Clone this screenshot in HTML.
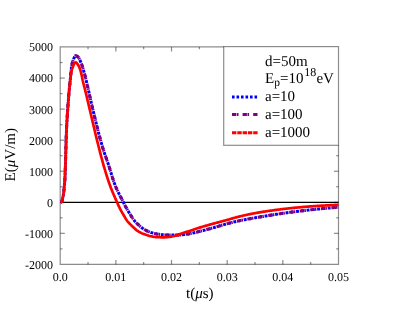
<!DOCTYPE html>
<html><head><meta charset="utf-8"><style>
html,body{margin:0;padding:0;background:#fff;}
svg{display:block;font-family:"Liberation Serif",serif;will-change:transform;}
text{text-rendering:geometricPrecision;}
</style></head><body>
<svg width="399" height="312" viewBox="0 0 399 312">
<rect width="399" height="312" fill="#fff"/>
<g stroke="#000" stroke-opacity="0.45" stroke-width="1.2" fill="none">
<path d="M223.7,46.8 H60.2 V264.4 H338.5 V145.3"/>
<rect x="223.7" y="46.6" width="114.80000000000001" height="98.7"/>
<line x1="88.03" y1="264.4" x2="88.03" y2="262.09999999999997"/>
<line x1="88.03" y1="47.0" x2="88.03" y2="49.3"/>
<line x1="115.86" y1="264.4" x2="115.86" y2="259.9"/>
<line x1="115.86" y1="47.0" x2="115.86" y2="51.5"/>
<line x1="143.69" y1="264.4" x2="143.69" y2="262.09999999999997"/>
<line x1="143.69" y1="47.0" x2="143.69" y2="49.3"/>
<line x1="171.52" y1="264.4" x2="171.52" y2="259.9"/>
<line x1="171.52" y1="47.0" x2="171.52" y2="51.5"/>
<line x1="199.35" y1="264.4" x2="199.35" y2="262.09999999999997"/>
<line x1="199.35" y1="47.0" x2="199.35" y2="49.3"/>
<line x1="227.18" y1="264.4" x2="227.18" y2="259.9"/>
<line x1="255.01" y1="264.4" x2="255.01" y2="262.09999999999997"/>
<line x1="282.84" y1="264.4" x2="282.84" y2="259.9"/>
<line x1="310.67" y1="264.4" x2="310.67" y2="262.09999999999997"/>
<line x1="60.2" y1="248.87" x2="62.5" y2="248.87"/>
<line x1="338.5" y1="248.87" x2="336.2" y2="248.87"/>
<line x1="60.2" y1="233.34" x2="64.8" y2="233.34"/>
<line x1="338.5" y1="233.34" x2="333.9" y2="233.34"/>
<line x1="60.2" y1="217.81" x2="62.5" y2="217.81"/>
<line x1="338.5" y1="217.81" x2="336.2" y2="217.81"/>
<line x1="60.2" y1="202.29" x2="64.8" y2="202.29"/>
<line x1="338.5" y1="202.29" x2="333.9" y2="202.29"/>
<line x1="60.2" y1="186.76" x2="62.5" y2="186.76"/>
<line x1="338.5" y1="186.76" x2="336.2" y2="186.76"/>
<line x1="60.2" y1="171.23" x2="64.8" y2="171.23"/>
<line x1="338.5" y1="171.23" x2="333.9" y2="171.23"/>
<line x1="60.2" y1="155.70" x2="62.5" y2="155.70"/>
<line x1="338.5" y1="155.70" x2="336.2" y2="155.70"/>
<line x1="60.2" y1="140.17" x2="64.8" y2="140.17"/>
<line x1="60.2" y1="124.64" x2="62.5" y2="124.64"/>
<line x1="60.2" y1="109.11" x2="64.8" y2="109.11"/>
<line x1="60.2" y1="93.59" x2="62.5" y2="93.59"/>
<line x1="60.2" y1="78.06" x2="64.8" y2="78.06"/>
<line x1="60.2" y1="62.53" x2="62.5" y2="62.53"/>
</g>
<line x1="60.2" y1="202.29" x2="338.5" y2="202.29" stroke="#000" stroke-width="1.3"/>
<g fill="none" stroke-linejoin="round">
<path d="M60.40,202.40 L61.18,202.13 L61.67,201.68 L62.00,200.96 L62.23,200.19 L62.41,199.45 L62.56,198.69 L62.71,197.93 L62.87,197.18 L63.03,196.43 L63.18,195.67 L63.31,194.92 L63.44,194.16 L63.56,193.40 L63.67,192.64 L63.76,191.88 L63.85,191.12 L63.92,190.35 L63.99,189.59 L64.06,188.82 L64.12,188.06 L64.19,187.29 L64.25,186.52 L64.32,185.76 L64.40,184.99 L64.47,184.23 L64.55,183.47 L64.62,182.70 L64.69,181.94 L64.75,181.17 L64.81,180.40 L64.85,179.64 L64.89,178.87 L64.93,178.10 L64.97,177.34 L65.01,176.57 L65.04,175.80 L65.08,175.04 L65.11,174.27 L65.14,173.50 L65.17,172.73 L65.20,171.96 L65.22,171.20 L65.25,170.43 L65.28,169.66 L65.30,168.89 L65.33,168.12 L65.35,167.36 L65.38,166.59 L65.41,165.82 L65.43,165.05 L65.46,164.29 L65.48,163.52 L65.50,162.75 L65.53,161.98 L65.55,161.21 L65.57,160.45 L65.59,159.68 L65.61,158.91 L65.63,158.14 L65.65,157.38 L65.67,156.61 L65.69,155.84 L65.71,155.07 L65.73,154.30 L65.75,153.54 L65.77,152.77 L65.79,152.00 L65.81,151.23 L65.84,150.46 L65.86,149.70 L65.88,148.93 L65.90,148.16 L65.92,147.39 L65.95,146.62 L65.97,145.86 L65.99,145.09 L66.02,144.32 L66.04,143.55 L66.06,142.79 L66.09,142.02 L66.11,141.25 L66.13,140.48 L66.16,139.71 L66.18,138.95 L66.20,138.18 L66.23,137.41 L66.25,136.64 L66.28,135.87 L66.31,135.11 L66.33,134.34 L66.36,133.57 L66.39,132.80 L66.42,132.04 L66.45,131.27 L66.48,130.50 L66.51,129.73 L66.54,128.97 L66.58,128.20 L66.61,127.43 L66.65,126.67 L66.69,125.90 L66.73,125.13 L66.77,124.36 L66.81,123.60 L66.85,122.83 L66.89,122.06 L66.94,121.30 L66.98,120.53 L67.03,119.76 L67.07,118.99 L67.12,118.23 L67.17,117.46 L67.21,116.69 L67.26,115.93 L67.31,115.16 L67.36,114.39 L67.41,113.63 L67.46,112.86 L67.51,112.09 L67.56,111.33 L67.61,110.56 L67.66,109.80 L67.71,109.03 L67.77,108.26 L67.82,107.50 L67.87,106.73 L67.92,105.96 L67.98,105.20 L68.03,104.43 L68.09,103.66 L68.14,102.90 L68.20,102.13 L68.26,101.37 L68.32,100.60 L68.38,99.83 L68.43,99.07 L68.50,98.30 L68.56,97.54 L68.62,96.77 L68.68,96.00 L68.74,95.24 L68.81,94.47 L68.87,93.71 L68.94,92.94 L69.01,92.18 L69.07,91.41 L69.14,90.65 L69.21,89.88 L69.28,89.12 L69.36,88.35 L69.43,87.59 L69.51,86.83 L69.59,86.06 L69.68,85.30 L69.76,84.53 L69.84,83.77 L69.93,83.01 L70.01,82.24 L70.09,81.48 L70.17,80.72 L70.25,79.95 L70.33,79.19 L70.41,78.42 L70.48,77.66 L70.55,76.89 L70.62,76.13 L70.68,75.36 L70.75,74.60 L70.82,73.83 L70.89,73.07 L70.97,72.30 L71.05,71.54 L71.13,70.77 L71.20,70.01 L71.28,69.24 L71.36,68.47 L71.45,67.71 L71.55,66.95 L71.65,66.19 L71.76,65.43 L71.89,64.68 L72.04,63.93 L72.23,63.18 L72.44,62.44 L72.67,61.70 L72.91,60.97 L73.15,60.24 L73.41,59.51 L73.69,58.79 L74.00,58.09 L74.35,57.41 L74.74,56.62 L75.21,55.90 L75.73,55.60 L76.41,55.79 L77.16,56.21 L77.77,56.66 L78.25,57.17 L78.68,57.78 L79.07,58.45 L79.44,59.17 L79.78,59.91 L80.11,60.65 L80.43,61.36 L80.74,62.06 L81.04,62.77 L81.33,63.48 L81.60,64.20 L81.86,64.93 L82.12,65.65 L82.36,66.38 L82.59,67.11 L82.82,67.84 L83.04,68.58 L83.26,69.31 L83.47,70.05 L83.68,70.79 L83.88,71.54 L84.08,72.28 L84.28,73.02 L84.48,73.76 L84.68,74.51 L84.88,75.25 L85.07,75.99 L85.26,76.74 L85.45,77.48 L85.63,78.23 L85.82,78.97 L86.00,79.72 L86.18,80.47 L86.36,81.21 L86.53,81.96 L86.71,82.71 L86.89,83.45 L87.06,84.20 L87.23,84.95 L87.41,85.70 L87.58,86.45 L87.75,87.20 L87.92,87.95 L88.09,88.70 L88.26,89.45 L88.42,90.20 L88.59,90.94 L88.76,91.69 L88.93,92.44 L89.10,93.19 L89.26,93.94 L89.43,94.69 L89.60,95.44 L89.76,96.19 L89.93,96.94 L90.10,97.69 L90.27,98.44 L90.44,99.19 L90.61,99.94 L90.78,100.69 L90.95,101.44 L91.12,102.19 L91.29,102.94 L91.46,103.69 L91.64,104.43 L91.81,105.18 L91.99,105.93 L92.16,106.68 L92.34,107.42 L92.52,108.17 L92.70,108.92 L92.88,109.66 L93.06,110.41 L93.24,111.16 L93.42,111.90 L93.60,112.65 L93.78,113.40 L93.96,114.15 L94.14,114.89 L94.32,115.64 L94.50,116.39 L94.68,117.14 L94.86,117.88 L95.05,118.63 L95.23,119.38 L95.41,120.12 L95.59,120.87 L95.77,121.62 L95.96,122.36 L96.14,123.11 L96.32,123.86 L96.51,124.60 L96.69,125.35 L96.88,126.10 L97.06,126.84 L97.25,127.59 L97.44,128.33 L97.63,129.08 L97.81,129.82 L98.00,130.57 L98.19,131.31 L98.39,132.06 L98.58,132.80 L98.77,133.55 L98.97,134.29 L99.16,135.03 L99.36,135.77 L99.56,136.52 L99.76,137.26 L99.96,138.00 L100.16,138.74 L100.36,139.48 L100.56,140.22 L100.77,140.96 L100.98,141.70 L101.18,142.44 L101.39,143.18 L101.60,143.91 L101.82,144.65 L102.03,145.39 L102.25,146.12 L102.47,146.86 L102.69,147.59 L102.91,148.32 L103.14,149.06 L103.38,149.79 L103.61,150.52 L103.85,151.25 L104.09,151.98 L104.33,152.70 L104.58,153.43 L104.83,154.16 L105.08,154.89 L105.33,155.61 L105.58,156.34 L105.83,157.07 L106.08,157.79 L106.34,158.52 L106.59,159.24 L106.84,159.97 L107.10,160.70 L107.35,161.42 L107.60,162.15 L107.85,162.88 L108.10,163.60 L108.34,164.33 L108.59,165.06 L108.83,165.79 L109.07,166.52 L109.31,167.25 L109.54,167.98 L109.77,168.72 L110.00,169.45 L110.23,170.19 L110.45,170.93 L110.68,171.66 L110.90,172.40 L111.12,173.14 L111.35,173.88 L111.57,174.61 L111.79,175.35 L112.02,176.09 L112.25,176.82 L112.47,177.56 L112.71,178.29 L112.94,179.02 L113.18,179.75 L113.41,180.48 L113.66,181.21 L113.91,181.94 L114.16,182.66 L114.41,183.38 L114.67,184.10 L114.94,184.81 L115.21,185.53 L115.49,186.24 L115.78,186.94 L116.08,187.65 L116.38,188.35 L116.69,189.05 L117.01,189.74 L117.34,190.44 L117.67,191.13 L118.01,191.82 L118.35,192.51 L118.69,193.20 L119.04,193.88 L119.39,194.57 L119.74,195.26 L120.10,195.94 L120.46,196.62 L120.82,197.31 L121.17,197.99 L121.53,198.67 L121.89,199.35 L122.24,200.04 L122.60,200.72 L122.95,201.41 L123.30,202.09 L123.64,202.78 L123.98,203.47 L124.33,204.15 L124.67,204.84 L125.02,205.52 L125.38,206.21 L125.74,206.88 L126.11,207.56 L126.48,208.23 L126.86,208.89 L127.25,209.56 L127.64,210.22 L128.03,210.88 L128.42,211.54 L128.82,212.20 L129.22,212.85 L129.62,213.51 L130.03,214.16 L130.44,214.81 L130.85,215.46 L131.27,216.10 L131.68,216.75 L132.09,217.41 L132.51,218.06 L132.93,218.70 L133.36,219.34 L133.81,219.96 L134.27,220.57 L134.76,221.15 L135.26,221.73 L135.78,222.30 L136.31,222.86 L136.86,223.40 L137.42,223.94 L137.98,224.47 L138.55,224.98 L139.12,225.48 L139.71,225.99 L140.30,226.48 L140.90,226.98 L141.50,227.46 L142.12,227.93 L142.74,228.38 L143.38,228.82 L144.02,229.24 L144.67,229.63 L145.33,229.99 L146.00,230.35 L146.69,230.70 L147.39,231.03 L148.10,231.35 L148.81,231.66 L149.53,231.94 L150.25,232.21 L150.97,232.46 L151.70,232.69 L152.43,232.91 L153.17,233.12 L153.92,233.33 L154.67,233.51 L155.42,233.69 L156.17,233.85 L156.93,233.99 L157.68,234.11 L158.44,234.23 L159.20,234.34 L159.96,234.44 L160.73,234.54 L161.49,234.62 L162.26,234.70 L163.02,234.76 L163.79,234.81 L164.55,234.85 L165.32,234.90 L166.09,234.93 L166.86,234.97 L167.63,234.99 L168.39,235.02 L169.16,235.04 L169.93,235.05 L170.70,235.06 L171.47,235.07 L172.23,235.08 L173.00,235.09 L173.77,235.09 L174.54,235.10 L175.31,235.10 L176.08,235.10 L176.84,235.09 L177.61,235.07 L178.38,235.03 L179.15,234.99 L179.92,234.94 L180.68,234.89 L181.45,234.83 L182.21,234.77 L182.98,234.71 L183.74,234.63 L184.50,234.54 L185.26,234.43 L186.03,234.32 L186.79,234.19 L187.54,234.07 L188.30,233.94 L189.06,233.81 L189.81,233.67 L190.56,233.53 L191.32,233.37 L192.07,233.22 L192.82,233.06 L193.57,232.89 L194.32,232.72 L195.07,232.54 L195.81,232.36 L196.56,232.18 L197.31,231.99 L198.06,231.81 L198.80,231.62 L199.55,231.44 L200.29,231.25 L201.04,231.06 L201.78,230.88 L202.53,230.69 L203.27,230.50 L204.02,230.31 L204.76,230.12 L205.50,229.92 L206.24,229.72 L206.99,229.52 L207.73,229.32 L208.47,229.12 L209.21,228.91 L209.95,228.71 L210.69,228.50 L211.43,228.29 L212.17,228.09 L212.91,227.88 L213.65,227.67 L214.39,227.46 L215.13,227.25 L215.86,227.03 L216.60,226.82 L217.34,226.60 L218.07,226.37 L218.81,226.15 L219.54,225.93 L220.28,225.70 L221.01,225.48 L221.75,225.26 L222.49,225.04 L223.22,224.82 L223.96,224.61 L224.70,224.40 L225.44,224.19 L226.18,223.99 L226.92,223.79 L227.66,223.59 L228.40,223.39 L229.15,223.20 L229.89,223.01 L230.63,222.81 L231.38,222.62 L232.12,222.44 L232.87,222.25 L233.62,222.06 L234.36,221.88 L235.11,221.70 L235.86,221.53 L236.61,221.35 L237.36,221.18 L238.11,221.02 L238.86,220.85 L239.61,220.69 L240.36,220.53 L241.11,220.38 L241.86,220.23 L242.62,220.08 L243.37,219.93 L244.12,219.79 L244.88,219.65 L245.63,219.51 L246.39,219.37 L247.15,219.23 L247.90,219.09 L248.66,218.95 L249.41,218.81 L250.17,218.68 L250.93,218.54 L251.68,218.40 L252.44,218.27 L253.19,218.13 L253.95,217.99 L254.71,217.86 L255.46,217.72 L256.22,217.59 L256.97,217.45 L257.73,217.32 L258.49,217.19 L259.25,217.06 L260.00,216.93 L260.76,216.80 L261.52,216.67 L262.27,216.54 L263.03,216.41 L263.79,216.29 L264.55,216.16 L265.30,216.03 L266.06,215.91 L266.82,215.78 L267.58,215.66 L268.34,215.54 L269.10,215.42 L269.85,215.29 L270.61,215.17 L271.37,215.05 L272.13,214.93 L272.89,214.81 L273.65,214.70 L274.41,214.58 L275.17,214.46 L275.93,214.35 L276.69,214.23 L277.44,214.12 L278.20,214.00 L278.96,213.89 L279.72,213.78 L280.48,213.67 L281.24,213.56 L282.00,213.45 L282.77,213.34 L283.53,213.23 L284.29,213.12 L285.05,213.01 L285.81,212.91 L286.57,212.80 L287.33,212.70 L288.09,212.59 L288.85,212.49 L289.61,212.38 L290.37,212.28 L291.14,212.18 L291.90,212.08 L292.66,211.98 L293.42,211.88 L294.18,211.78 L294.94,211.68 L295.71,211.59 L296.47,211.49 L297.23,211.39 L297.99,211.30 L298.76,211.20 L299.52,211.11 L300.28,211.02 L301.04,210.93 L301.81,210.83 L302.57,210.74 L303.33,210.66 L304.09,210.57 L304.86,210.48 L305.62,210.39 L306.38,210.30 L307.15,210.22 L307.91,210.13 L308.67,210.05 L309.44,209.96 L310.20,209.88 L310.96,209.80 L311.73,209.72 L312.49,209.63 L313.26,209.55 L314.02,209.47 L314.78,209.39 L315.55,209.31 L316.31,209.23 L317.08,209.15 L317.84,209.07 L318.60,208.99 L319.37,208.91 L320.13,208.84 L320.90,208.76 L321.66,208.68 L322.43,208.61 L323.19,208.53 L323.96,208.46 L324.72,208.39 L325.48,208.31 L326.25,208.24 L327.01,208.18 L327.78,208.11 L328.54,208.04 L329.31,207.97 L330.08,207.91 L330.84,207.85 L331.61,207.78 L332.37,207.72 L333.14,207.66 L333.90,207.60 L334.67,207.54 L335.44,207.48 L336.20,207.42 L336.97,207.36 L337.73,207.31 L338.50,207.25" stroke="#0000ff" stroke-width="3" stroke-dasharray="2.9,2.4" stroke-dashoffset="-1.65"/>
<path d="M60.40,202.40 L61.18,202.13 L61.67,201.68 L62.00,200.96 L62.23,200.19 L62.41,199.45 L62.56,198.69 L62.71,197.93 L62.87,197.18 L63.03,196.43 L63.18,195.67 L63.31,194.92 L63.44,194.16 L63.56,193.40 L63.67,192.64 L63.76,191.88 L63.85,191.12 L63.92,190.35 L63.99,189.59 L64.06,188.82 L64.12,188.06 L64.19,187.29 L64.25,186.52 L64.32,185.76 L64.40,184.99 L64.47,184.23 L64.55,183.47 L64.62,182.70 L64.69,181.94 L64.75,181.17 L64.81,180.40 L64.85,179.64 L64.89,178.87 L64.93,178.10 L64.97,177.34 L65.01,176.57 L65.04,175.80 L65.08,175.04 L65.11,174.27 L65.14,173.50 L65.17,172.73 L65.20,171.96 L65.22,171.20 L65.25,170.43 L65.28,169.66 L65.30,168.89 L65.33,168.12 L65.35,167.36 L65.38,166.59 L65.41,165.82 L65.43,165.05 L65.46,164.29 L65.48,163.52 L65.50,162.75 L65.53,161.98 L65.55,161.21 L65.57,160.45 L65.59,159.68 L65.61,158.91 L65.63,158.14 L65.65,157.38 L65.67,156.61 L65.69,155.84 L65.71,155.07 L65.73,154.30 L65.75,153.54 L65.77,152.77 L65.79,152.00 L65.81,151.23 L65.84,150.46 L65.86,149.70 L65.88,148.93 L65.90,148.16 L65.92,147.39 L65.95,146.62 L65.97,145.86 L65.99,145.09 L66.02,144.32 L66.04,143.55 L66.06,142.79 L66.09,142.02 L66.11,141.25 L66.13,140.48 L66.16,139.71 L66.18,138.95 L66.20,138.18 L66.23,137.41 L66.25,136.64 L66.28,135.87 L66.31,135.11 L66.33,134.34 L66.36,133.57 L66.39,132.80 L66.42,132.04 L66.45,131.27 L66.48,130.50 L66.51,129.73 L66.54,128.97 L66.58,128.20 L66.61,127.43 L66.65,126.67 L66.69,125.90 L66.73,125.13 L66.77,124.36 L66.81,123.60 L66.85,122.83 L66.89,122.06 L66.94,121.30 L66.98,120.53 L67.03,119.76 L67.07,118.99 L67.12,118.23 L67.17,117.46 L67.21,116.69 L67.26,115.93 L67.31,115.16 L67.36,114.39 L67.41,113.63 L67.46,112.86 L67.51,112.09 L67.56,111.33 L67.61,110.56 L67.66,109.80 L67.71,109.03 L67.77,108.26 L67.82,107.50 L67.87,106.73 L67.92,105.96 L67.98,105.20 L68.03,104.43 L68.09,103.66 L68.14,102.90 L68.20,102.13 L68.26,101.37 L68.32,100.60 L68.38,99.83 L68.43,99.07 L68.50,98.30 L68.56,97.54 L68.62,96.77 L68.68,96.00 L68.74,95.24 L68.81,94.47 L68.87,93.71 L68.94,92.94 L69.01,92.18 L69.07,91.41 L69.14,90.65 L69.21,89.88 L69.28,89.12 L69.36,88.35 L69.43,87.59 L69.51,86.83 L69.59,86.06 L69.68,85.30 L69.76,84.53 L69.84,83.77 L69.93,83.01 L70.01,82.24 L70.09,81.48 L70.17,80.72 L70.25,79.95 L70.33,79.19 L70.41,78.42 L70.48,77.66 L70.55,76.89 L70.62,76.13 L70.68,75.36 L70.75,74.60 L70.82,73.83 L70.89,73.07 L70.97,72.30 L71.05,71.54 L71.13,70.77 L71.20,70.01 L71.28,69.24 L71.36,68.47 L71.45,67.71 L71.55,66.95 L71.65,66.19 L71.76,65.43 L71.89,64.68 L72.04,63.93 L72.23,63.18 L72.44,62.44 L72.67,61.70 L72.91,60.97 L73.15,60.24 L73.41,59.51 L73.69,58.79 L74.00,58.09 L74.35,57.41 L74.74,56.62 L75.21,55.90 L75.73,55.60 L76.41,55.79 L77.16,56.21 L77.77,56.66 L78.25,57.17 L78.68,57.78 L79.07,58.45 L79.44,59.17 L79.78,59.91 L80.11,60.65 L80.43,61.36 L80.74,62.06 L81.04,62.77 L81.33,63.48 L81.60,64.20 L81.86,64.93 L82.12,65.65 L82.36,66.38 L82.59,67.11 L82.82,67.84 L83.04,68.58 L83.26,69.31 L83.47,70.05 L83.68,70.79 L83.88,71.54 L84.08,72.28 L84.28,73.02 L84.48,73.76 L84.68,74.51 L84.88,75.25 L85.07,75.99 L85.26,76.74 L85.45,77.48 L85.63,78.23 L85.82,78.97 L86.00,79.72 L86.18,80.47 L86.36,81.21 L86.53,81.96 L86.71,82.71 L86.89,83.45 L87.06,84.20 L87.23,84.95 L87.41,85.70 L87.58,86.45 L87.75,87.20 L87.92,87.95 L88.09,88.70 L88.26,89.45 L88.42,90.20 L88.59,90.94 L88.76,91.69 L88.93,92.44 L89.10,93.19 L89.26,93.94 L89.43,94.69 L89.60,95.44 L89.76,96.19 L89.93,96.94 L90.10,97.69 L90.27,98.44 L90.44,99.19 L90.61,99.94 L90.78,100.69 L90.95,101.44 L91.12,102.19 L91.29,102.94 L91.46,103.69 L91.64,104.43 L91.81,105.18 L91.99,105.93 L92.16,106.68 L92.34,107.42 L92.52,108.17 L92.70,108.92 L92.88,109.66 L93.06,110.41 L93.24,111.16 L93.42,111.90 L93.60,112.65 L93.78,113.40 L93.96,114.15 L94.14,114.89 L94.32,115.64 L94.50,116.39 L94.68,117.14 L94.86,117.88 L95.05,118.63 L95.23,119.38 L95.41,120.12 L95.59,120.87 L95.77,121.62 L95.96,122.36 L96.14,123.11 L96.32,123.86 L96.51,124.60 L96.69,125.35 L96.88,126.10 L97.06,126.84 L97.25,127.59 L97.44,128.33 L97.63,129.08 L97.81,129.82 L98.00,130.57 L98.19,131.31 L98.39,132.06 L98.58,132.80 L98.77,133.55 L98.97,134.29 L99.16,135.03 L99.36,135.77 L99.56,136.52 L99.76,137.26 L99.96,138.00 L100.16,138.74 L100.36,139.48 L100.56,140.22 L100.77,140.96 L100.98,141.70 L101.18,142.44 L101.39,143.18 L101.60,143.91 L101.82,144.65 L102.03,145.39 L102.25,146.12 L102.47,146.86 L102.69,147.59 L102.91,148.32 L103.14,149.06 L103.38,149.79 L103.61,150.52 L103.85,151.25 L104.09,151.98 L104.33,152.70 L104.58,153.43 L104.83,154.16 L105.08,154.89 L105.33,155.61 L105.58,156.34 L105.83,157.07 L106.08,157.79 L106.34,158.52 L106.59,159.24 L106.84,159.97 L107.10,160.70 L107.35,161.42 L107.60,162.15 L107.85,162.88 L108.10,163.60 L108.34,164.33 L108.59,165.06 L108.83,165.79 L109.07,166.52 L109.31,167.25 L109.54,167.98 L109.77,168.72 L110.00,169.45 L110.23,170.19 L110.45,170.93 L110.68,171.66 L110.90,172.40 L111.12,173.14 L111.35,173.88 L111.57,174.61 L111.79,175.35 L112.02,176.09 L112.25,176.82 L112.47,177.56 L112.71,178.29 L112.94,179.02 L113.18,179.75 L113.41,180.48 L113.66,181.21 L113.91,181.94 L114.16,182.66 L114.41,183.38 L114.67,184.10 L114.94,184.81 L115.21,185.53 L115.49,186.24 L115.78,186.94 L116.08,187.65 L116.38,188.35 L116.69,189.05 L117.01,189.74 L117.34,190.44 L117.67,191.13 L118.01,191.82 L118.35,192.51 L118.69,193.20 L119.04,193.88 L119.39,194.57 L119.74,195.26 L120.10,195.94 L120.46,196.62 L120.82,197.31 L121.17,197.99 L121.53,198.67 L121.89,199.35 L122.24,200.04 L122.60,200.72 L122.95,201.41 L123.30,202.09 L123.64,202.78 L123.98,203.47 L124.33,204.15 L124.67,204.84 L125.02,205.52 L125.38,206.21 L125.74,206.88 L126.11,207.56 L126.48,208.23 L126.86,208.89 L127.25,209.56 L127.64,210.22 L128.03,210.88 L128.42,211.54 L128.82,212.20 L129.22,212.85 L129.62,213.51 L130.03,214.16 L130.44,214.81 L130.85,215.46 L131.27,216.10 L131.68,216.75 L132.09,217.41 L132.51,218.06 L132.93,218.70 L133.36,219.34 L133.81,219.96 L134.27,220.57 L134.76,221.15 L135.26,221.73 L135.78,222.30 L136.31,222.86 L136.86,223.40 L137.42,223.94 L137.98,224.47 L138.55,224.98 L139.12,225.48 L139.71,225.99 L140.30,226.48 L140.90,226.98 L141.50,227.46 L142.12,227.93 L142.74,228.38 L143.38,228.82 L144.02,229.24 L144.67,229.63 L145.33,229.99 L146.00,230.35 L146.69,230.70 L147.39,231.03 L148.10,231.35 L148.81,231.66 L149.53,231.94 L150.25,232.21 L150.97,232.46 L151.70,232.69 L152.43,232.91 L153.17,233.12 L153.92,233.33 L154.67,233.51 L155.42,233.69 L156.17,233.85 L156.93,233.99 L157.68,234.11 L158.44,234.23 L159.20,234.34 L159.96,234.44 L160.73,234.54 L161.49,234.62 L162.26,234.70 L163.02,234.76 L163.79,234.81 L164.55,234.85 L165.32,234.90 L166.09,234.93 L166.86,234.97 L167.63,234.99 L168.39,235.02 L169.16,235.04 L169.93,235.05 L170.70,235.06 L171.47,235.07 L172.23,235.08 L173.00,235.09 L173.77,235.09 L174.54,235.10 L175.31,235.10 L176.08,235.10 L176.84,235.09 L177.61,235.07 L178.38,235.03 L179.15,234.99 L179.92,234.94 L180.68,234.89 L181.45,234.83 L182.21,234.77 L182.98,234.71 L183.74,234.63 L184.50,234.54 L185.26,234.43 L186.03,234.32 L186.79,234.19 L187.54,234.07 L188.30,233.94 L189.06,233.81 L189.81,233.67 L190.56,233.53 L191.32,233.37 L192.07,233.22 L192.82,233.06 L193.57,232.89 L194.32,232.72 L195.07,232.54 L195.81,232.36 L196.56,232.18 L197.31,231.99 L198.06,231.81 L198.80,231.62 L199.55,231.44 L200.29,231.25 L201.04,231.06 L201.78,230.88 L202.53,230.69 L203.27,230.50 L204.02,230.31 L204.76,230.12 L205.50,229.92 L206.24,229.72 L206.99,229.52 L207.73,229.32 L208.47,229.12 L209.21,228.91 L209.95,228.71 L210.69,228.50 L211.43,228.29 L212.17,228.09 L212.91,227.88 L213.65,227.67 L214.39,227.46 L215.13,227.25 L215.86,227.03 L216.60,226.82 L217.34,226.60 L218.07,226.37 L218.81,226.15 L219.54,225.93 L220.28,225.70 L221.01,225.48 L221.75,225.26 L222.49,225.04 L223.22,224.82 L223.96,224.61 L224.70,224.40 L225.44,224.19 L226.18,223.99 L226.92,223.79 L227.66,223.59 L228.40,223.39 L229.15,223.20 L229.89,223.01 L230.63,222.81 L231.38,222.62 L232.12,222.44 L232.87,222.25 L233.62,222.06 L234.36,221.88 L235.11,221.70 L235.86,221.53 L236.61,221.35 L237.36,221.18 L238.11,221.02 L238.86,220.85 L239.61,220.69 L240.36,220.53 L241.11,220.38 L241.86,220.23 L242.62,220.08 L243.37,219.93 L244.12,219.79 L244.88,219.65 L245.63,219.51 L246.39,219.37 L247.15,219.23 L247.90,219.09 L248.66,218.95 L249.41,218.81 L250.17,218.68 L250.93,218.54 L251.68,218.40 L252.44,218.27 L253.19,218.13 L253.95,217.99 L254.71,217.86 L255.46,217.72 L256.22,217.59 L256.97,217.45 L257.73,217.32 L258.49,217.19 L259.25,217.06 L260.00,216.93 L260.76,216.80 L261.52,216.67 L262.27,216.54 L263.03,216.41 L263.79,216.29 L264.55,216.16 L265.30,216.03 L266.06,215.91 L266.82,215.78 L267.58,215.66 L268.34,215.54 L269.10,215.42 L269.85,215.29 L270.61,215.17 L271.37,215.05 L272.13,214.93 L272.89,214.81 L273.65,214.70 L274.41,214.58 L275.17,214.46 L275.93,214.35 L276.69,214.23 L277.44,214.12 L278.20,214.00 L278.96,213.89 L279.72,213.78 L280.48,213.67 L281.24,213.56 L282.00,213.45 L282.77,213.34 L283.53,213.23 L284.29,213.12 L285.05,213.01 L285.81,212.91 L286.57,212.80 L287.33,212.70 L288.09,212.59 L288.85,212.49 L289.61,212.38 L290.37,212.28 L291.14,212.18 L291.90,212.08 L292.66,211.98 L293.42,211.88 L294.18,211.78 L294.94,211.68 L295.71,211.59 L296.47,211.49 L297.23,211.39 L297.99,211.30 L298.76,211.20 L299.52,211.11 L300.28,211.02 L301.04,210.93 L301.81,210.83 L302.57,210.74 L303.33,210.66 L304.09,210.57 L304.86,210.48 L305.62,210.39 L306.38,210.30 L307.15,210.22 L307.91,210.13 L308.67,210.05 L309.44,209.96 L310.20,209.88 L310.96,209.80 L311.73,209.72 L312.49,209.63 L313.26,209.55 L314.02,209.47 L314.78,209.39 L315.55,209.31 L316.31,209.23 L317.08,209.15 L317.84,209.07 L318.60,208.99 L319.37,208.91 L320.13,208.84 L320.90,208.76 L321.66,208.68 L322.43,208.61 L323.19,208.53 L323.96,208.46 L324.72,208.39 L325.48,208.31 L326.25,208.24 L327.01,208.18 L327.78,208.11 L328.54,208.04 L329.31,207.97 L330.08,207.91 L330.84,207.85 L331.61,207.78 L332.37,207.72 L333.14,207.66 L333.90,207.60 L334.67,207.54 L335.44,207.48 L336.20,207.42 L336.97,207.36 L337.73,207.31 L338.50,207.25" stroke="#800080" stroke-width="3" stroke-dasharray="4,0.7,1.5,4.4"/>
<path d="M60.40,202.40 L61.17,202.13 L61.67,201.69 L61.99,200.99 L62.22,200.22 L62.40,199.49 L62.55,198.74 L62.70,197.99 L62.86,197.25 L63.01,196.51 L63.16,195.76 L63.30,195.02 L63.42,194.27 L63.54,193.52 L63.65,192.77 L63.75,192.01 L63.83,191.26 L63.91,190.50 L63.98,189.75 L64.04,188.99 L64.11,188.24 L64.17,187.48 L64.24,186.72 L64.30,185.97 L64.38,185.21 L64.45,184.45 L64.53,183.70 L64.60,182.94 L64.67,182.19 L64.74,181.43 L64.79,180.67 L64.83,179.92 L64.88,179.16 L64.92,178.40 L64.96,177.64 L64.99,176.88 L65.03,176.13 L65.06,175.37 L65.09,174.61 L65.12,173.85 L65.15,173.09 L65.18,172.33 L65.21,171.57 L65.24,170.81 L65.26,170.06 L65.29,169.30 L65.31,168.54 L65.34,167.78 L65.37,167.02 L65.39,166.26 L65.42,165.50 L65.44,164.74 L65.47,163.98 L65.49,163.23 L65.51,162.47 L65.53,161.71 L65.56,160.95 L65.58,160.19 L65.60,159.43 L65.62,158.67 L65.64,157.91 L65.66,157.15 L65.68,156.40 L65.70,155.64 L65.72,154.88 L65.74,154.12 L65.76,153.36 L65.78,152.60 L65.80,151.84 L65.82,151.08 L65.84,150.32 L65.86,149.57 L65.88,148.81 L65.90,148.05 L65.93,147.29 L65.95,146.53 L65.97,145.77 L66.00,145.01 L66.02,144.25 L66.04,143.49 L66.06,142.74 L66.09,141.98 L66.11,141.22 L66.13,140.46 L66.16,139.70 L66.18,138.94 L66.20,138.18 L66.23,137.42 L66.25,136.66 L66.28,135.91 L66.30,135.15 L66.33,134.39 L66.36,133.63 L66.39,132.87 L66.41,132.11 L66.44,131.35 L66.48,130.59 L66.51,129.84 L66.54,129.08 L66.57,128.32 L66.61,127.56 L66.65,126.80 L66.69,126.05 L66.73,125.29 L66.77,124.53 L66.81,123.77 L66.85,123.01 L66.89,122.26 L66.94,121.50 L66.99,120.74 L67.03,119.98 L67.08,119.22 L67.13,118.47 L67.18,117.71 L67.22,116.95 L67.27,116.19 L67.32,115.43 L67.38,114.68 L67.43,113.92 L67.48,113.16 L67.53,112.40 L67.58,111.65 L67.63,110.89 L67.69,110.13 L67.74,109.38 L67.79,108.62 L67.84,107.86 L67.90,107.10 L67.95,106.35 L68.01,105.59 L68.06,104.83 L68.12,104.07 L68.18,103.32 L68.24,102.56 L68.30,101.80 L68.36,101.05 L68.42,100.29 L68.48,99.53 L68.54,98.78 L68.60,98.02 L68.66,97.26 L68.73,96.51 L68.79,95.75 L68.86,94.99 L68.92,94.24 L68.99,93.48 L69.06,92.72 L69.12,91.97 L69.19,91.21 L69.26,90.46 L69.33,89.70 L69.40,88.94 L69.46,88.19 L69.53,87.43 L69.60,86.67 L69.67,85.92 L69.74,85.16 L69.81,84.41 L69.88,83.65 L69.96,82.89 L70.03,82.14 L70.11,81.38 L70.19,80.63 L70.27,79.87 L70.35,79.12 L70.44,78.36 L70.53,77.61 L70.62,76.86 L70.72,76.11 L70.82,75.35 L70.92,74.60 L71.03,73.84 L71.14,73.09 L71.27,72.34 L71.40,71.59 L71.55,70.85 L71.72,70.12 L71.91,69.39 L72.15,68.67 L72.42,67.96 L72.70,67.25 L72.99,66.54 L73.28,65.84 L73.56,65.11 L73.86,64.40 L74.21,63.74 L74.67,63.10 L75.26,62.49 L75.84,62.32 L76.39,62.71 L76.94,63.38 L77.44,64.05 L77.90,64.65 L78.33,65.29 L78.72,65.94 L79.05,66.62 L79.35,67.30 L79.62,68.00 L79.88,68.71 L80.12,69.44 L80.35,70.17 L80.56,70.90 L80.77,71.64 L80.96,72.38 L81.15,73.12 L81.34,73.86 L81.51,74.59 L81.68,75.33 L81.83,76.08 L81.98,76.82 L82.12,77.57 L82.27,78.32 L82.41,79.06 L82.56,79.81 L82.71,80.55 L82.88,81.29 L83.05,82.03 L83.23,82.77 L83.42,83.50 L83.61,84.24 L83.81,84.97 L84.00,85.71 L84.20,86.44 L84.40,87.17 L84.59,87.91 L84.78,88.64 L84.97,89.38 L85.15,90.11 L85.33,90.85 L85.51,91.59 L85.69,92.33 L85.87,93.06 L86.05,93.80 L86.22,94.54 L86.40,95.28 L86.57,96.02 L86.75,96.76 L86.92,97.50 L87.10,98.24 L87.27,98.98 L87.44,99.71 L87.61,100.45 L87.79,101.19 L87.96,101.93 L88.13,102.67 L88.30,103.41 L88.48,104.15 L88.65,104.89 L88.82,105.63 L89.00,106.37 L89.17,107.11 L89.34,107.85 L89.52,108.59 L89.70,109.32 L89.87,110.06 L90.05,110.80 L90.22,111.54 L90.40,112.28 L90.57,113.02 L90.74,113.76 L90.92,114.50 L91.09,115.23 L91.27,115.97 L91.44,116.71 L91.61,117.45 L91.79,118.19 L91.96,118.93 L92.13,119.67 L92.31,120.41 L92.48,121.15 L92.65,121.89 L92.83,122.63 L93.00,123.37 L93.18,124.10 L93.35,124.84 L93.52,125.58 L93.70,126.32 L93.87,127.06 L94.05,127.80 L94.22,128.54 L94.40,129.28 L94.57,130.02 L94.75,130.76 L94.92,131.49 L95.10,132.23 L95.28,132.97 L95.45,133.71 L95.63,134.45 L95.81,135.19 L95.99,135.92 L96.16,136.66 L96.34,137.40 L96.52,138.14 L96.70,138.87 L96.88,139.61 L97.06,140.35 L97.25,141.09 L97.43,141.82 L97.61,142.56 L97.79,143.30 L97.98,144.03 L98.16,144.77 L98.35,145.50 L98.53,146.24 L98.72,146.98 L98.91,147.71 L99.09,148.45 L99.28,149.18 L99.47,149.92 L99.66,150.65 L99.85,151.39 L100.04,152.13 L100.23,152.86 L100.42,153.60 L100.61,154.33 L100.80,155.07 L100.99,155.80 L101.19,156.54 L101.38,157.27 L101.58,158.00 L101.77,158.74 L101.97,159.47 L102.17,160.20 L102.37,160.94 L102.57,161.67 L102.77,162.40 L102.98,163.13 L103.19,163.86 L103.39,164.59 L103.60,165.32 L103.81,166.05 L104.03,166.78 L104.24,167.50 L104.45,168.23 L104.67,168.96 L104.88,169.69 L105.10,170.42 L105.32,171.15 L105.54,171.87 L105.76,172.60 L105.98,173.33 L106.21,174.05 L106.43,174.78 L106.66,175.51 L106.89,176.23 L107.12,176.95 L107.35,177.68 L107.58,178.40 L107.82,179.12 L108.06,179.84 L108.30,180.56 L108.54,181.28 L108.79,182.00 L109.03,182.72 L109.28,183.44 L109.53,184.15 L109.79,184.86 L110.05,185.58 L110.31,186.29 L110.57,187.00 L110.84,187.71 L111.11,188.41 L111.39,189.12 L111.67,189.82 L111.95,190.53 L112.24,191.23 L112.53,191.93 L112.83,192.63 L113.12,193.33 L113.42,194.03 L113.72,194.73 L114.02,195.43 L114.33,196.12 L114.63,196.82 L114.94,197.52 L115.24,198.21 L115.55,198.91 L115.86,199.60 L116.17,200.30 L116.48,200.99 L116.78,201.68 L117.09,202.38 L117.40,203.07 L117.71,203.77 L118.02,204.46 L118.33,205.15 L118.65,205.84 L118.97,206.53 L119.30,207.21 L119.63,207.89 L119.97,208.57 L120.31,209.25 L120.66,209.93 L121.01,210.60 L121.37,211.27 L121.74,211.93 L122.12,212.59 L122.50,213.25 L122.89,213.90 L123.29,214.55 L123.68,215.20 L124.08,215.84 L124.47,216.50 L124.85,217.16 L125.23,217.82 L125.62,218.48 L126.01,219.13 L126.42,219.77 L126.84,220.39 L127.29,220.99 L127.76,221.57 L128.26,222.15 L128.76,222.72 L129.28,223.28 L129.81,223.83 L130.35,224.37 L130.89,224.91 L131.44,225.44 L131.98,225.97 L132.52,226.50 L133.07,227.03 L133.63,227.57 L134.19,228.10 L134.76,228.62 L135.33,229.13 L135.91,229.62 L136.50,230.10 L137.10,230.56 L137.71,230.99 L138.34,231.40 L138.97,231.78 L139.63,232.14 L140.30,232.49 L140.99,232.82 L141.68,233.15 L142.39,233.45 L143.10,233.75 L143.81,234.03 L144.52,234.30 L145.23,234.56 L145.94,234.81 L146.66,235.06 L147.39,235.30 L148.11,235.53 L148.84,235.75 L149.58,235.95 L150.31,236.13 L151.05,236.29 L151.79,236.44 L152.54,236.58 L153.29,236.72 L154.04,236.85 L154.79,236.97 L155.55,237.07 L156.31,237.14 L157.06,237.19 L157.82,237.21 L158.57,237.23 L159.33,237.25 L160.09,237.27 L160.85,237.28 L161.61,237.29 L162.37,237.30 L163.13,237.30 L163.89,237.30 L164.65,237.28 L165.41,237.24 L166.17,237.19 L166.93,237.12 L167.68,237.05 L168.44,236.97 L169.19,236.88 L169.95,236.79 L170.70,236.70 L171.45,236.58 L172.19,236.44 L172.94,236.29 L173.69,236.13 L174.43,235.95 L175.17,235.77 L175.90,235.58 L176.63,235.38 L177.35,235.16 L178.06,234.91 L178.77,234.64 L179.48,234.36 L180.19,234.08 L180.90,233.79 L181.61,233.52 L182.32,233.26 L183.04,233.02 L183.76,232.78 L184.49,232.55 L185.21,232.32 L185.94,232.10 L186.66,231.87 L187.39,231.65 L188.11,231.42 L188.83,231.19 L189.56,230.95 L190.28,230.72 L191.00,230.48 L191.72,230.24 L192.44,230.00 L193.16,229.76 L193.88,229.52 L194.60,229.28 L195.32,229.03 L196.04,228.79 L196.76,228.55 L197.48,228.32 L198.20,228.08 L198.92,227.85 L199.65,227.61 L200.37,227.39 L201.10,227.16 L201.82,226.94 L202.55,226.72 L203.28,226.51 L204.00,226.29 L204.73,226.08 L205.46,225.87 L206.19,225.66 L206.92,225.45 L207.65,225.24 L208.38,225.04 L209.11,224.83 L209.85,224.63 L210.58,224.42 L211.31,224.22 L212.04,224.02 L212.77,223.81 L213.50,223.61 L214.24,223.41 L214.97,223.21 L215.70,223.01 L216.43,222.81 L217.17,222.61 L217.90,222.41 L218.63,222.21 L219.36,222.02 L220.10,221.82 L220.83,221.63 L221.57,221.43 L222.30,221.23 L223.03,221.04 L223.77,220.84 L224.50,220.64 L225.23,220.45 L225.96,220.25 L226.70,220.05 L227.43,219.84 L228.16,219.64 L228.89,219.43 L229.62,219.22 L230.35,219.01 L231.08,218.80 L231.81,218.59 L232.54,218.38 L233.27,218.17 L234.00,217.97 L234.73,217.76 L235.46,217.56 L236.20,217.36 L236.93,217.16 L237.66,216.97 L238.40,216.78 L239.13,216.59 L239.87,216.41 L240.61,216.23 L241.34,216.05 L242.08,215.88 L242.82,215.71 L243.56,215.54 L244.30,215.37 L245.04,215.20 L245.79,215.03 L246.53,214.87 L247.27,214.71 L248.01,214.55 L248.76,214.40 L249.50,214.24 L250.24,214.09 L250.99,213.94 L251.73,213.79 L252.48,213.65 L253.22,213.51 L253.97,213.37 L254.71,213.23 L255.46,213.09 L256.21,212.96 L256.96,212.82 L257.70,212.69 L258.45,212.56 L259.20,212.43 L259.95,212.31 L260.70,212.18 L261.45,212.06 L262.20,211.94 L262.95,211.81 L263.70,211.70 L264.45,211.58 L265.20,211.46 L265.95,211.34 L266.70,211.23 L267.45,211.12 L268.20,211.01 L268.95,210.90 L269.70,210.79 L270.45,210.68 L271.20,210.57 L271.96,210.47 L272.71,210.36 L273.46,210.26 L274.21,210.16 L274.97,210.05 L275.72,209.95 L276.47,209.86 L277.22,209.76 L277.98,209.66 L278.73,209.56 L279.48,209.47 L280.24,209.37 L280.99,209.28 L281.74,209.19 L282.50,209.10 L283.25,209.01 L284.00,208.92 L284.76,208.83 L285.51,208.74 L286.27,208.65 L287.02,208.57 L287.78,208.49 L288.53,208.40 L289.29,208.32 L290.04,208.24 L290.80,208.16 L291.55,208.09 L292.31,208.01 L293.06,207.94 L293.82,207.86 L294.57,207.79 L295.33,207.71 L296.08,207.64 L296.84,207.57 L297.60,207.50 L298.35,207.43 L299.11,207.36 L299.87,207.30 L300.62,207.23 L301.38,207.16 L302.13,207.10 L302.89,207.03 L303.65,206.97 L304.40,206.90 L305.16,206.84 L305.92,206.77 L306.67,206.71 L307.43,206.65 L308.19,206.59 L308.94,206.53 L309.70,206.47 L310.46,206.41 L311.21,206.35 L311.97,206.29 L312.73,206.24 L313.49,206.18 L314.24,206.13 L315.00,206.08 L315.76,206.03 L316.51,205.98 L317.27,205.93 L318.03,205.88 L318.79,205.84 L319.55,205.79 L320.30,205.74 L321.06,205.70 L321.82,205.65 L322.58,205.61 L323.34,205.57 L324.09,205.53 L324.85,205.48 L325.61,205.44 L326.37,205.40 L327.13,205.36 L327.88,205.32 L328.64,205.28 L329.40,205.24 L330.16,205.20 L330.92,205.16 L331.67,205.12 L332.43,205.08 L333.19,205.05 L333.95,205.01 L334.71,204.97 L335.47,204.94 L336.22,204.90 L336.98,204.87 L337.74,204.83 L338.50,204.80" stroke="#ff0000" stroke-width="2.7"/>
</g>
<g font-size="12px" fill="#000">
<text x="60.20" y="280.5" text-anchor="middle">0.0</text>
<text x="115.86" y="280.5" text-anchor="middle">0.01</text>
<text x="171.52" y="280.5" text-anchor="middle">0.02</text>
<text x="227.18" y="280.5" text-anchor="middle">0.03</text>
<text x="282.84" y="280.5" text-anchor="middle">0.04</text>
<text x="338.50" y="280.5" text-anchor="middle">0.05</text>
<text x="53" y="268.80" text-anchor="end">-2000</text>
<text x="53" y="237.74" text-anchor="end">-1000</text>
<text x="53" y="206.69" text-anchor="end">0</text>
<text x="53" y="175.63" text-anchor="end">1000</text>
<text x="53" y="144.57" text-anchor="end">2000</text>
<text x="53" y="113.51" text-anchor="end">3000</text>
<text x="53" y="82.46" text-anchor="end">4000</text>
<text x="53" y="51.40" text-anchor="end">5000</text>
</g>
<g font-size="15px" fill="#000">
<text x="199.8" y="298" text-anchor="middle">t(<tspan font-style="italic">μ</tspan>s)</text>
<text transform="translate(14.5,154.7) rotate(-90)" text-anchor="middle">E(<tspan font-style="italic">μ</tspan>V/m)</text>
</g>
<g font-size="15px" fill="#000">
<text x="265" y="66">d=50m</text>
<text x="265" y="83">E<tspan font-size="11.5px" y="85.7">p</tspan><tspan y="83">=10</tspan><tspan font-size="12px" y="76.4" dx="0.8">18</tspan><tspan y="83" dx="0.2">eV</tspan></text>
<text x="265" y="101.1">a=10</text>
<text x="265" y="119.0">a=100</text>
<text x="265" y="137.0">a=1000</text>
</g>
<g fill="none" stroke-width="3">
<line x1="232" y1="96.9" x2="257.5" y2="96.9" stroke="#0000ff" stroke-dasharray="2.6,1.9"/>
<line x1="232" y1="114.5" x2="257.5" y2="114.5" stroke="#800080" stroke-dasharray="4.3,0.6,1.6,4.1"/>
<line x1="232" y1="132.8" x2="257.6" y2="132.8" stroke="#ff0000" stroke-dasharray="4.4,0.9"/>
</g>
</svg>
</body></html>
